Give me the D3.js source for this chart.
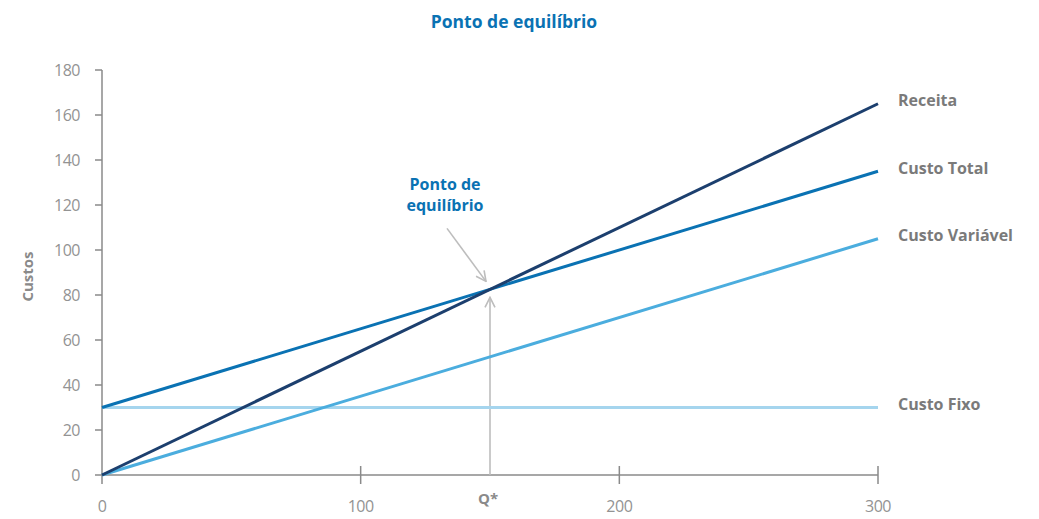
<!DOCTYPE html>
<html>
<head>
<meta charset="utf-8">
<script src="https://cdn.jsdelivr.net/npm/d3@7"></script>
<style>
  body { margin: 0; background: #fff; }
  svg { display: block; font-family: "Open Sans", "Noto Sans", sans-serif; }
</style>
</head>
<body>
<svg id="chart"></svg>
<script>
const width = 1039;
const height = 519;

// data
const quantities = [0, 300];
const receita = [0, 165];
const custoTotal = [30, 135];
const custoVariavel = [0, 105];
const custoFixo = [30, 30];
const seriesNames = ["Receita", "Custo Total", "Custo Variável", "Custo Fixo"];
const yTicks = [0, 20, 40, 60, 80, 100, 120, 140, 160, 180];
const xTicks = [0, 100, 200, 300];
const breakEven = [150, 82.5];

const colors = {
    "Receita": "#1c3f6e",
    "Custo Total": "#0a72b3",
    "Custo Variável": "#4badde",
    "Custo Fixo": "#a5d5ee"
};
const grey = "#8a8a8a";
const blue = "#0a72b3";

const margin = { top: 70, right: 161, bottom: 44, left: 102 };
const svg = d3.select("#chart").attr("width", width).attr("height", height);

const x = d3.scaleLinear().domain([0, 300]).range([margin.left, width - margin.right]);
const y = d3.scaleLinear().domain([0, 180]).range([height - margin.bottom, margin.top]);

// title
svg.append("text")
    .attr("x", 514).attr("y", 28)
    .attr("text-anchor", "middle")
    .attr("font-size", 17.5).attr("font-weight", 700)
    .attr("fill", blue)
    .text("Ponto de equilíbrio");

// y axis
const yAxis = svg.append("g").attr("transform", `translate(${margin.left},0)`);
yAxis.append("line")
    .attr("x1", 0).attr("x2", 0)
    .attr("y1", y(180)).attr("y2", y(0) + 9)
    .attr("stroke", grey).attr("stroke-width", 1.5);
yAxis.selectAll(".ytick")
    .data(yTicks)
    .join("line")
    .attr("x1", -7).attr("x2", 0)
    .attr("y1", d => y(d)).attr("y2", d => y(d))
    .attr("stroke", grey).attr("stroke-width", 1.5);
yAxis.selectAll(".ylab")
    .data(yTicks)
    .join("text")
    .attr("x", -22).attr("y", d => y(d))
    .attr("dy", "0.35em")
    .attr("text-anchor", "end")
    .attr("font-size", 16)
    .attr("letter-spacing", -0.5)
    .attr("fill", "#939393")
    .text(d => d);

svg.append("text")
    .attr("transform", `translate(33,${(y(0) + y(180)) / 2 + 4}) rotate(-90)`)
    .attr("text-anchor", "middle")
    .attr("font-size", 15).attr("font-weight", 700)
    .attr("fill", grey)
    .text("Custos");

// x axis
const xAxis = svg.append("g").attr("transform", `translate(0,${y(0)})`);
xAxis.append("line")
    .attr("x1", x(0)).attr("x2", x(300))
    .attr("stroke", grey).attr("stroke-width", 1.5);
xAxis.selectAll(".xtick")
    .data(xTicks.filter(d => d > 0))
    .join("line")
    .attr("x1", d => x(d)).attr("x2", d => x(d))
    .attr("y1", -9).attr("y2", 9)
    .attr("stroke", grey).attr("stroke-width", 1.5);
xAxis.selectAll(".xlab")
    .data(xTicks)
    .join("text")
    .attr("x", d => x(d)).attr("y", 37)
    .attr("text-anchor", "middle")
    .attr("font-size", 16)
    .attr("letter-spacing", -0.5)
    .attr("fill", "#939393")
    .text(d => d);

// arrows
const defs = svg.append("defs");
defs.append("marker")
    .attr("id", "arrow")
    .attr("viewBox", "0 0 12 12")
    .attr("refX", 11).attr("refY", 6)
    .attr("markerWidth", 12).attr("markerHeight", 12)
    .attr("markerUnits", "userSpaceOnUse")
    .attr("orient", "auto")
    .append("path")
    .attr("d", "M1,1 L11,6 L1,11")
    .attr("fill", "none")
    .attr("stroke", "#bdbdbd")
    .attr("stroke-width", 1.6);

svg.append("line")
    .attr("x1", x(breakEven[0])).attr("x2", x(breakEven[0]))
    .attr("y1", y(0)).attr("y2", y(breakEven[1]) + 8)
    .attr("stroke", "#bdbdbd").attr("stroke-width", 1.6)
    .attr("marker-end", "url(#arrow)");

svg.append("line")
    .attr("x1", x(breakEven[0]) - 43).attr("y1", y(breakEven[1]) - 61)
    .attr("x2", x(breakEven[0]) - 4).attr("y2", y(breakEven[1]) - 8)
    .attr("stroke", "#bdbdbd").attr("stroke-width", 1.6)
    .attr("marker-end", "url(#arrow)");

// series lines
const series = [
    { name: "Custo Fixo", values: custoFixo },
    { name: "Custo Variável", values: custoVariavel },
    { name: "Custo Total", values: custoTotal },
    { name: "Receita", values: receita }
];
const line = d3.line().x(d => x(d[0])).y(d => y(d[1]));

svg.selectAll(".series")
    .data(series)
    .join("path")
    .attr("d", s => line(quantities.map((q, i) => [q, s.values[i]])))
    .attr("fill", "none")
    .attr("stroke", s => colors[s.name])
    .attr("stroke-width", 3);

// series labels
const labelY = { "Receita": 165, "Custo Total": 135, "Custo Variável": 105, "Custo Fixo": 30 };
svg.selectAll(".slabel")
    .data(seriesNames)
    .join("text")
    .attr("x", x(300) + 20)
    .attr("y", d => y(labelY[d]) - 3)
    .attr("dy", "0.35em")
    .attr("font-size", 16).attr("font-weight", 700)
    .attr("fill", "#7a7a7a")
    .text(d => d);

// annotations
const ann = svg.append("text")
    .attr("text-anchor", "middle")
    .attr("font-size", 16).attr("font-weight", 700)
    .attr("fill", blue);
ann.append("tspan").attr("x", 445).attr("y", 190).text("Ponto de");
ann.append("tspan").attr("x", 445).attr("y", 211).text("equilíbrio");

svg.append("text")
    .attr("x", x(breakEven[0]) - 2).attr("y", y(0) + 29)
    .attr("text-anchor", "middle")
    .attr("font-size", 15).attr("font-weight", 700)
    .attr("fill", grey)
    .text("Q*");
</script>
</body>
</html>
